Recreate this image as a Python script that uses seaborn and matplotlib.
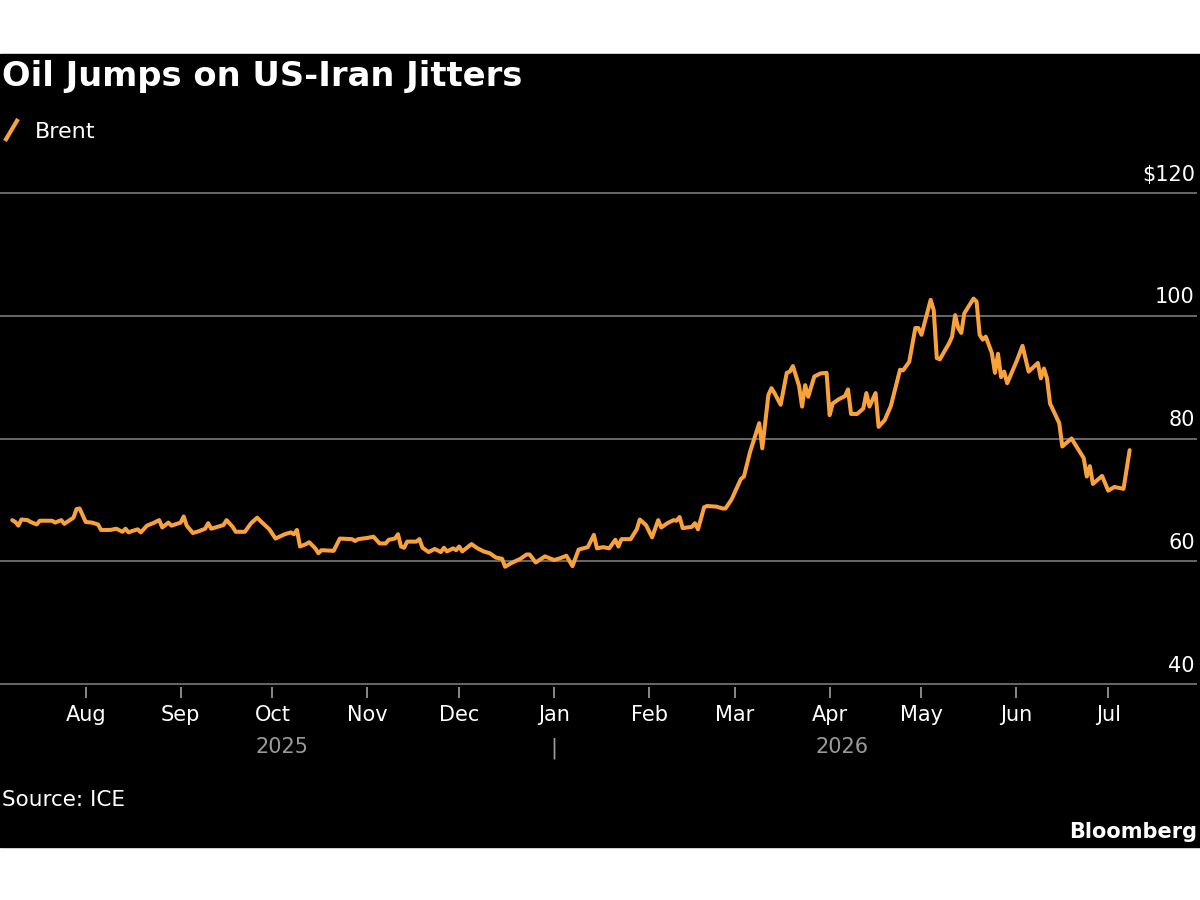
import pandas as pd
import seaborn as sns
import matplotlib
matplotlib.use("Agg")
import matplotlib.pyplot as plt
import matplotlib.dates as mdates
from matplotlib.patches import Rectangle
from matplotlib.lines import Line2D

# Brent price
dates = [
    "2025-07-08", "2025-07-09", "2025-07-10", "2025-07-11", "2025-07-13", "2025-07-14",
    "2025-07-16", "2025-07-17", "2025-07-21", "2025-07-22", "2025-07-24", "2025-07-25",
    "2025-07-28", "2025-07-29", "2025-07-30", "2025-08-01", "2025-08-03", "2025-08-05",
    "2025-08-06", "2025-08-09", "2025-08-11", "2025-08-13", "2025-08-14", "2025-08-15",
    "2025-08-16", "2025-08-18", "2025-08-19", "2025-08-21", "2025-08-23", "2025-08-25",
    "2025-08-26", "2025-08-28", "2025-08-29", "2025-09-01", "2025-09-02", "2025-09-03",
    "2025-09-05", "2025-09-07", "2025-09-09", "2025-09-10", "2025-09-11", "2025-09-13",
    "2025-09-15", "2025-09-16", "2025-09-18", "2025-09-19", "2025-09-22", "2025-09-24",
    "2025-09-26", "2025-09-27", "2025-09-30", "2025-10-02", "2025-10-05", "2025-10-07",
    "2025-10-08", "2025-10-09", "2025-10-10", "2025-10-12", "2025-10-13", "2025-10-15",
    "2025-10-16", "2025-10-17", "2025-10-21", "2025-10-23", "2025-10-27", "2025-10-28",
    "2025-10-29", "2025-11-01", "2025-11-03", "2025-11-05", "2025-11-07", "2025-11-08",
    "2025-11-10", "2025-11-11", "2025-11-12", "2025-11-13", "2025-11-14", "2025-11-17",
    "2025-11-18", "2025-11-19", "2025-11-21", "2025-11-23", "2025-11-25", "2025-11-26",
    "2025-11-27", "2025-11-29", "2025-11-30", "2025-12-01", "2025-12-02", "2025-12-05",
    "2025-12-07", "2025-12-09", "2025-12-11", "2025-12-13", "2025-12-15", "2025-12-16",
    "2025-12-18", "2025-12-21", "2025-12-23", "2025-12-24", "2025-12-26", "2025-12-29",
    "2026-01-01", "2026-01-03", "2026-01-05", "2026-01-07", "2026-01-09", "2026-01-12",
    "2026-01-14", "2026-01-15", "2026-01-17", "2026-01-19", "2026-01-21", "2026-01-22",
    "2026-01-23", "2026-01-26", "2026-01-28", "2026-01-29", "2026-01-31", "2026-02-02",
    "2026-02-04", "2026-02-05", "2026-02-07", "2026-02-09", "2026-02-10", "2026-02-11",
    "2026-02-12", "2026-02-15", "2026-02-16", "2026-02-17", "2026-02-19", "2026-02-20",
    "2026-02-23", "2026-02-25", "2026-02-26", "2026-02-28", "2026-03-01", "2026-03-03",
    "2026-03-04", "2026-03-06", "2026-03-09", "2026-03-10", "2026-03-12", "2026-03-13",
    "2026-03-14", "2026-03-16", "2026-03-18", "2026-03-19", "2026-03-20", "2026-03-22",
    "2026-03-23", "2026-03-24", "2026-03-25", "2026-03-27", "2026-03-29", "2026-03-31",
    "2026-04-01", "2026-04-02", "2026-04-04", "2026-04-06", "2026-04-07", "2026-04-08",
    "2026-04-10", "2026-04-12", "2026-04-13", "2026-04-14", "2026-04-16", "2026-04-17",
    "2026-04-19", "2026-04-21", "2026-04-24", "2026-04-25", "2026-04-27", "2026-04-29",
    "2026-04-30", "2026-05-01", "2026-05-04", "2026-05-05", "2026-05-06", "2026-05-07",
    "2026-05-10", "2026-05-11", "2026-05-12", "2026-05-13", "2026-05-14", "2026-05-15",
    "2026-05-18", "2026-05-19", "2026-05-20", "2026-05-21", "2026-05-22", "2026-05-24",
    "2026-05-25", "2026-05-26", "2026-05-27", "2026-05-28", "2026-05-29", "2026-06-01",
    "2026-06-03", "2026-06-05", "2026-06-08", "2026-06-09", "2026-06-10", "2026-06-11",
    "2026-06-12", "2026-06-15", "2026-06-16", "2026-06-19", "2026-06-23", "2026-06-24",
    "2026-06-25", "2026-06-26", "2026-06-29", "2026-07-01", "2026-07-03", "2026-07-06",
    "2026-07-08",
]
brent = [
    66.7, 66.4, 65.8, 66.8, 66.7, 66.4,
    66.0, 66.6, 66.6, 66.3, 66.7, 66.1,
    67.1, 68.5, 68.6, 66.4, 66.3, 66.0,
    65.1, 65.1, 65.3, 64.8, 65.3, 64.7,
    64.9, 65.2, 64.7, 65.8, 66.2, 66.7,
    65.5, 66.3, 65.8, 66.3, 67.3, 65.8,
    64.6, 64.9, 65.3, 66.2, 65.3, 65.6,
    65.9, 66.7, 65.6, 64.8, 64.8, 66.2,
    67.1, 66.6, 65.2, 63.7, 64.4, 64.7,
    64.4, 65.1, 62.4, 62.8, 63.1, 62.1,
    61.3, 61.8, 61.7, 63.7, 63.6, 63.3,
    63.6, 63.8, 64.0, 62.9, 62.9, 63.5,
    63.7, 64.4, 62.4, 62.2, 63.2, 63.2,
    63.6, 62.2, 61.5, 62.0, 61.5, 62.2,
    61.6, 62.1, 61.8, 62.4, 61.6, 62.8,
    62.1, 61.6, 61.3, 60.6, 60.4, 59.1,
    59.7, 60.4, 61.1, 61.1, 59.8, 60.8,
    60.2, 60.5, 60.9, 59.2, 61.9, 62.3,
    64.3, 62.1, 62.3, 62.1, 63.5, 62.4,
    63.6, 63.6, 65.2, 66.8, 65.9, 63.9,
    66.7, 65.5, 66.2, 66.7, 66.6, 67.2,
    65.4, 65.6, 66.2, 65.2, 68.8, 69.0,
    68.9, 68.6, 68.6, 70.1, 71.2, 73.4,
    73.8, 77.8, 82.5, 78.4, 87.1, 88.2,
    87.4, 85.5, 90.7, 90.9, 91.8, 88.6,
    85.2, 88.7, 86.8, 90.1, 90.6, 90.7,
    83.8, 85.7, 86.4, 86.9, 88.0, 84.0,
    84.0, 84.9, 87.4, 85.2, 87.4, 81.9,
    83.0, 85.3, 91.2, 91.1, 92.5, 98.0,
    98.0, 96.9, 102.6, 100.9, 93.1, 92.9,
    95.5, 96.6, 100.1, 98.0, 97.2, 100.4,
    102.8, 102.3, 96.9, 96.1, 96.6, 93.9,
    90.7, 93.8, 90.0, 90.9, 89.0, 92.5,
    95.1, 90.9, 92.3, 89.8, 91.4, 89.8,
    85.7, 82.5, 78.7, 80.0, 76.8, 73.8,
    75.5, 72.6, 73.9, 71.5, 72.1, 71.8,
    78.1,
]
y_ticks = [40, 60, 80, 100, 120]
y_tick_labels = ["40", "60", "80", "100", "$120"]

ORANGE = "#F9A23B"
GRID = "#7a7a7a"

df = pd.DataFrame({"date": pd.to_datetime(dates), "price": brent})

sns.set_style("dark")
plt.rcParams["font.family"] = ["DejaVu Sans"]

W, H = 1200, 900
fig = plt.figure(figsize=(12, 9), dpi=100, facecolor="white")
# black panel between the white bands
fig.patches.append(Rectangle((0, 1 - 847 / H), 1, (847 - 54) / H,
                             transform=fig.transFigure, color="black", zorder=-10))

# axes placed so that 40 sits at y=684 px and 120 at y=193 px
px_per_unit = (684 - 193) / 80
y_lo, y_hi = 39.5, 120.5
ax_bottom = 684 + (40 - y_lo) * px_per_unit
ax_top = 193 - (y_hi - 120) * px_per_unit
ax = fig.add_axes([0, 1 - ax_bottom / H, 1197 / W, (ax_bottom - ax_top) / H])
ax.set_facecolor("black")

sns.lineplot(data=df, x="date", y="price", ax=ax, color=ORANGE, linewidth=2.9)

ax.set_ylim(y_lo, y_hi)
ax.set_xlim(pd.Timestamp("2025-07-04"), pd.Timestamp("2026-07-30"))
ax.set_yticks(y_ticks)
ax.yaxis.grid(True, color=GRID, linewidth=1.2)
ax.xaxis.grid(False)
for s in ax.spines.values():
    s.set_visible(False)
ax.set_xlabel("")
ax.set_ylabel("")
ax.tick_params(axis="y", length=0, labelleft=False, labelright=False)

ax.xaxis.set_major_locator(mdates.MonthLocator())
ax.xaxis.set_major_formatter(mdates.DateFormatter("%b"))
ax.tick_params(axis="x", bottom=True, length=8, width=1.2, color="#a0a0a0",
               labelcolor="white", labelsize=15, pad=5)

# y labels sit right-aligned just above each gridline
for v, lab in zip(y_ticks, y_tick_labels):
    ax.annotate(lab, xy=(1, v), xycoords=("axes fraction", "data"),
                xytext=(-1.5, 9), textcoords="offset points",
                ha="right", va="baseline", color="white", fontsize=15)

# year labels centered on each year's span of data
first, last = df["date"].min(), df["date"].max()
end25, start26 = pd.Timestamp("2025-12-31"), pd.Timestamp("2026-01-01")
for txt, xd in [("2025", first + (end25 - first) / 2),
                ("|", start26),
                ("2026", start26 + (last - start26) / 2)]:
    ax.annotate(txt, xy=(xd, 0), xycoords=("data", "axes fraction"),
                xytext=(0, -36), textcoords="offset points",
                ha="center", va="top", color="#9a9a9a", fontsize=15)

# title, legend, footer
fig.text(2 / W, 1 - 86 / H, "Oil Jumps on US-Iran Jitters", color="white",
         fontsize=24.3, fontweight="bold", va="baseline")
fig.lines.append(Line2D([5 / W, 18 / W], [1 - 141 / H, 1 - 119 / H],
                        transform=fig.transFigure, color=ORANGE, linewidth=3,
                        solid_capstyle="butt"))
fig.text(35 / W, 1 - 138 / H, "Brent", color="white", fontsize=16, va="baseline")
fig.text(2 / W, 1 - 806 / H, "Source: ICE", color="white", fontsize=15.5, va="baseline")
fig.text(1197 / W, 1 - 838 / H, "Bloomberg", color="white", fontsize=15,
         fontweight="bold", ha="right", va="baseline")

fig.savefig("out.png", dpi=100, facecolor="white")
